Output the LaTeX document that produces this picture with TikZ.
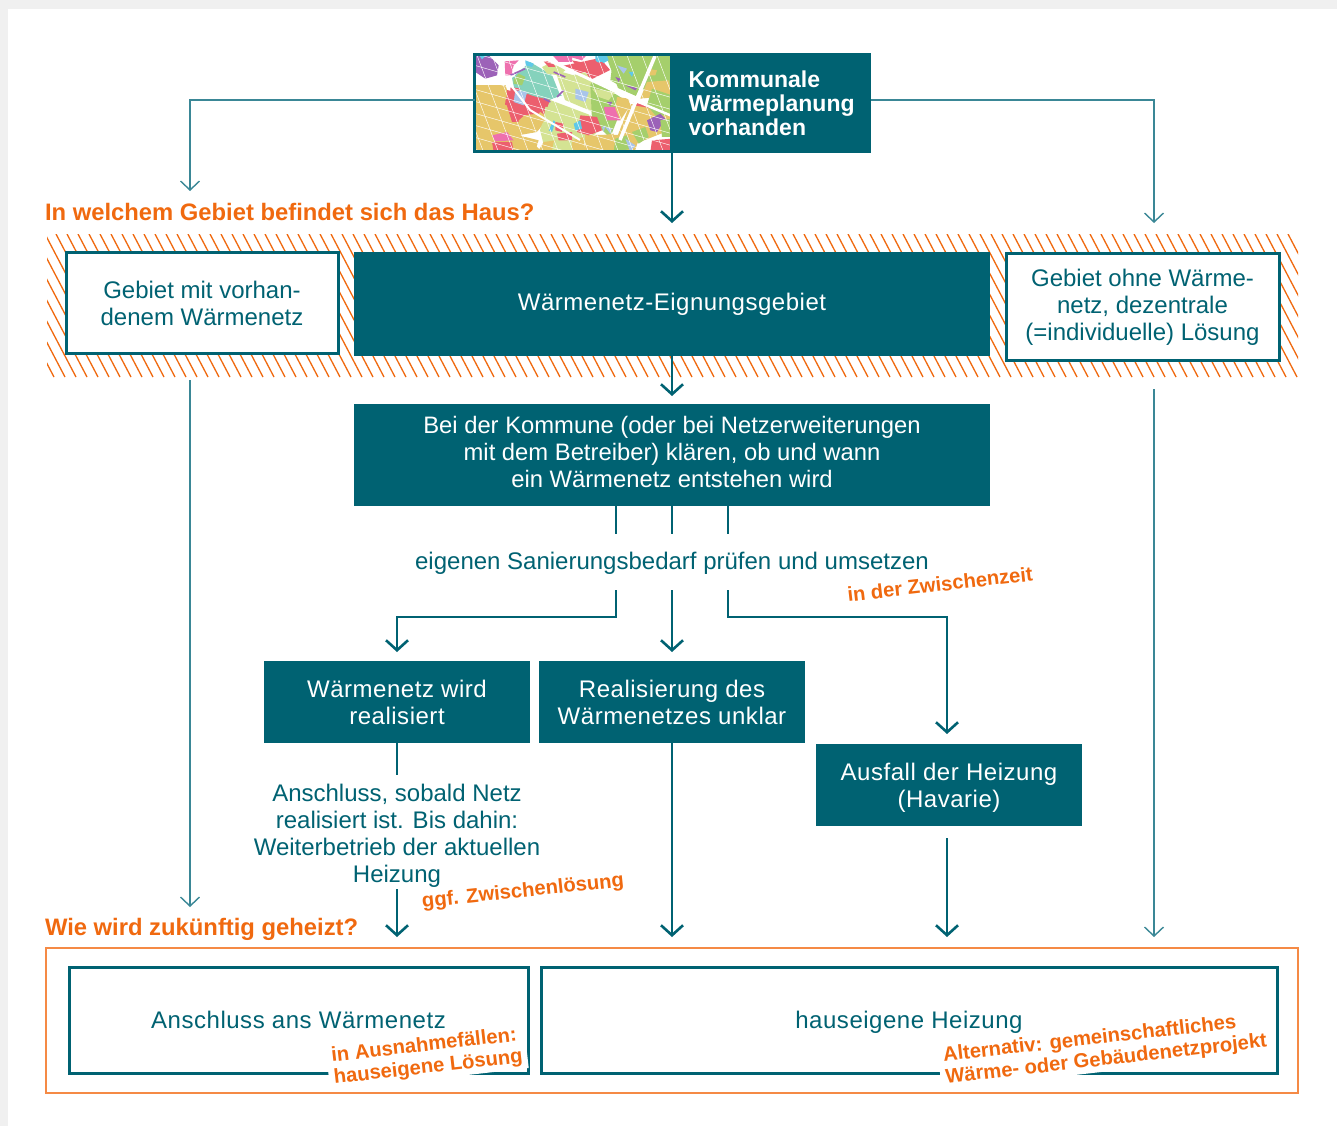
\documentclass[tikz,border=0pt]{standalone}
\usepackage{fontspec}
\setmainfont{Liberation Sans}
\usetikzlibrary{arrows.meta}
\definecolor{teal1}{HTML}{006272}
\definecolor{teal2}{HTML}{3A8796}
\definecolor{orng}{HTML}{F0690F}
\definecolor{orng2}{HTML}{F58A45}
\definecolor{mY}{HTML}{E6C66A}
\definecolor{mR}{HTML}{EC5F6E}
\definecolor{mG}{HTML}{A5CF6C}
\definecolor{mL}{HTML}{D4E393}
\definecolor{mM}{HTML}{85D2BC}
\definecolor{mP}{HTML}{9C62B8}
\definecolor{mK}{HTML}{EE70AE}
\definecolor{mB}{HTML}{A9C5EA}
\definecolor{mC}{HTML}{5FC9E8}
\newcommand{\mapfill}[2]{\fill[#1] #2 -- cycle;}
\newfontfamily\widefont[LetterSpace=2.2]{Liberation Sans}
\tikzset{
  x=1pt,y=-1pt,
  solidbox/.style={fill=teal1,text=white,inner sep=0pt,outer sep=0pt,align=center,font=\fontsize{24}{27}\selectfont},
  widebox/.style={solidbox,font=\widefont\fontsize{24}{27}\selectfont},
  framebox/.style={fill=white,draw=teal1,line width=3pt,text=teal1,inner sep=0pt,outer sep=0pt,align=center,font=\fontsize{24}{27}\selectfont},
  plaintext/.style={text=teal1,inner sep=0pt,outer sep=0pt,align=center,font=\fontsize{24}{27}\selectfont},
  widetext/.style={plaintext,font=\widefont\fontsize{24}{27}\selectfont},
  heading/.style={text=orng,inner sep=0pt,outer sep=0pt,anchor=west,font=\bfseries\fontsize{23.8}{27}\selectfont},
  remark/.style={text=orng,inner xsep=5pt,inner ysep=2pt,outer sep=0pt,align=left,font=\bfseries\fontsize{20.2}{22}\selectfont},
  thickline/.style={draw=teal1,line width=2.6pt},
  thinline/.style={draw=teal2,line width=1.4pt},
  thicktip/.style={thickline,-{Straight Barb[length=10pt,width=22pt,line width=2.6pt]}},
  thintip/.style={thinline,-{Straight Barb[length=9pt,width=19pt,line width=1.4pt]}},
}
\begin{document}
\begin{tikzpicture}
\useasboundingbox (0,0) rectangle (1337,1126);
\fill[black!6] (0,0) rectangle (1337,1126);
\fill[white] (8,9) rectangle (1337,1126);

% hatched band
\begin{scope}
\clip (47,234) rectangle (1298,377);
\foreach \hx in {0,...,125}{
  \draw[orng,line width=1.3pt] ({-32+11*\hx},234) -- ({43+11*\hx},377);
}
\end{scope}

% top box
\node[solidbox,minimum width=200pt,minimum height=100pt,anchor=north west,text width=165pt,align=left,font=\bfseries\fontsize{23}{24}\selectfont] (plan) at (671,53.5) {Kommunale\\Wärmeplanung\\vorhanden};
\fill[teal1] (671,53) rectangle (871,56);
\node[draw=teal1,line width=3pt,fill=white,inner sep=0pt,outer sep=0pt,minimum width=197pt,minimum height=97pt,anchor=north west] (mapbox) at (474.5,54.5) {};
\begin{scope}
\clip (476,56) rectangle (670,151);
% underlay of land-use zones
\mapfill{mY}{(476,84)--(505,84)--(512,105)--(540,108)--(548,118)--(537,132)--(520,135)--(530,140)--(540,150)--(476,150)}
\mapfill{mM}{(512,78)--(530,62)--(552,75)--(560,95)--(540,105)--(515,92)}
\mapfill{mR}{(507,90)--(550,100)--(545,118)--(515,122)--(505,105)}
\mapfill{mL}{(550,100)--(590,115)--(600,130)--(575,150)--(545,150)--(540,130)}
\mapfill{mL}{(555,70)--(590,80)--(612,100)--(600,115)--(565,100)}
\mapfill{mG}{(590,78)--(625,100)--(610,138)--(592,120)}
\mapfill{mG}{(606,56)--(655,56)--(636,96)--(618,88)}
\mapfill{mG}{(650,56)--(670,56)--(670,90)--(642,90)}
\mapfill{mY}{(630,104)--(670,105)--(670,130)--(620,150)--(612,150)}
\mapfill{mR}{(562,66)--(600,58)--(610,70)--(590,80)}
\mapfill{mY}{(585,135)--(640,135)--(635,151)--(585,151)}
\begin{scope}[shift={(472,52)},scale=0.33333]
\mapfill{mP}{(10,12)--(50,10)--(80,40)--(75,70)--(40,80)--(10,60)}
\mapfill{mC}{(20,8)--(45,8)--(30,22)}
\mapfill{mK}{(98,28)--(140,25)--(125,40)--(118,70)--(100,70)}
\mapfill{mC}{(160,25)--(185,35)--(180,45)--(160,40)}
\mapfill{mY}{(12,95)--(100,95)--(105,130)--(85,195)--(65,240)--(5,225)}
\mapfill{mY}{(80,150)--(115,165)--(120,200)--(135,250)--(100,235)--(75,200)}
\mapfill{mY}{(135,210)--(185,165)--(225,195)--(195,235)--(155,245)}
\mapfill{mY}{(0,230)--(60,245)--(55,270)--(10,295)--(0,295)}
\mapfill{mY}{(135,290)--(160,255)--(200,265)--(190,295)}
\mapfill{mY}{(215,270)--(250,265)--(240,295)--(200,295)}
\mapfill{mG}{(125,82)--(140,65)--(160,75)--(150,100)--(125,95)}
\mapfill{mM}{(170,60)--(205,70)--(215,90)--(190,115)--(165,100)}
\mapfill{mM}{(205,120)--(240,110)--(270,130)--(240,140)}
\mapfill{mR}{(115,105)--(145,110)--(130,130)--(115,125)}
\mapfill{mB}{(130,115)--(165,120)--(155,160)--(125,150)}
\mapfill{mR}{(165,125)--(225,150)--(200,185)--(150,190)--(160,160)}
\mapfill{mR}{(100,145)--(135,165)--(140,210)--(120,210)}
\mapfill{mL}{(210,45)--(240,30)--(280,55)--(260,70)--(225,65)}
\mapfill{mR}{(215,28)--(240,25)--(250,45)--(230,45)}
\mapfill{mK}{(240,8)--(300,8)--(300,30)--(260,30)}
\mapfill{mL}{(220,165)--(260,165)--(240,195)--(215,200)}
\mapfill{mL}{(250,170)--(300,200)--(290,240)--(240,215)}
\mapfill{mC}{(230,235)--(245,205)--(250,210)--(240,240)}
\mapfill{mR}{(250,210)--(275,215)--(270,240)--(250,235)}
\mapfill{mK}{(60,250)--(105,240)--(125,265)--(70,268)}
\mapfill{mR}{(60,270)--(120,270)--(125,300)--(65,300)}
\mapfill{mR}{(255,245)--(300,240)--(300,265)--(260,265)}
\mapfill{mL}{(245,270)--(300,265)--(300,300)--(240,300)}
\draw[mP,line width=1.6pt] (245,60)--(280,75) (255,135)--(275,115) (115,70)--(160,50) (215,140)--(235,150);
\end{scope}
\begin{scope}[shift={(572,52)},scale=0.33333]
\mapfill{mK}{(-30,8)--(45,8)--(30,25)}
\mapfill{mC}{(70,12)--(105,12)--(110,25)--(85,38)--(70,25)}
\mapfill{mR}{(0,25)--(25,30)--(40,45)--(15,45)}
\mapfill{mR}{(50,35)--(90,30)--(110,50)--(70,50)}
\mapfill{mG}{(120,45)--(180,12)--(245,12)--(215,75)--(190,120)--(150,105)--(115,85)}
\mapfill{mG}{(265,15)--(300,15)--(300,40)--(265,40)}
\mapfill{mG}{(240,40)--(300,45)--(300,85)--(228,85)}
\mapfill{mY}{(225,90)--(290,85)--(300,130)--(205,140)}
\mapfill{mL}{(0,70)--(40,60)--(60,90)--(30,130)--(0,120)}
\mapfill{mB}{(10,110)--(50,120)--(40,150)--(10,140)}
\mapfill{mL}{(60,110)--(130,120)--(110,145)--(80,135)}
\mapfill{mK}{(95,165)--(130,165)--(145,205)--(105,205)}
\mapfill{mG}{(75,155)--(100,155)--(90,180)--(70,175)}
\mapfill{mP}{(105,150)--(120,150)--(115,162)}
\mapfill{mY}{(135,135)--(170,140)--(175,160)--(145,205)--(130,170)}
\mapfill{mR}{(185,152)--(235,160)--(235,168)--(185,160)}
\mapfill{mY}{(200,170)--(240,175)--(225,205)--(175,235)--(145,245)--(170,200)}
\mapfill{mG}{(240,110)--(300,130)--(300,190)--(250,190)--(225,160)}
\mapfill{mP}{(225,205)--(265,185)--(280,200)--(255,240)--(235,235)}
\mapfill{mG}{(265,205)--(300,200)--(300,255)--(270,255)}
\mapfill{mG}{(180,240)--(220,225)--(230,255)--(200,275)}
\mapfill{mR}{(240,265)--(300,260)--(300,300)--(235,300)}
\mapfill{mR}{(25,190)--(75,195)--(90,235)--(50,250)--(15,240)}
\mapfill{mB}{(90,225)--(100,220)--(95,240)}
\mapfill{mB}{(100,225)--(120,230)--(115,245)}
\mapfill{mC}{(5,215)--(25,205)--(30,230)--(10,235)}
\mapfill{mY}{(60,255)--(85,250)--(80,300)--(50,300)}
\mapfill{mY}{(90,250)--(125,245)--(120,300)--(90,300)}
\mapfill{mY}{(0,265)--(35,255)--(40,300)--(0,300)}
\mapfill{mG}{(130,260)--(165,250)--(180,290)--(125,300)}
\mapfill{mB}{(160,260)--(190,280)--(175,300)}
\mapfill{mP}{(130,75)--(145,80)--(140,90)}
\mapfill{mB}{(135,40)--(165,50)--(155,65)}
\mapfill{mC}{(170,60)--(185,60)--(180,75)}
\mapfill{mP}{(160,100)--(195,108)--(190,115)}
\mapfill{mY}{(225,50)--(255,55)--(250,70)--(225,70)}
\end{scope}
% streets and block texture
\foreach \sx in {0,...,15}{
  \draw[white,line width=0.45pt] ({445+15*\sx},50) -- ({485+15*\sx},156);
  \draw[white,line width=0.45pt] (470,{40+12*\sx}) -- (680,{100+12*\sx});
}
\draw[white,line width=3pt] (540,56) -- (636,101);
\draw[white,line width=3.5pt] (655,56) -- (636,101) -- (620,140);
\draw[white,line width=2.5pt] (636,101) -- (672,116);
\draw[white,line width=2pt] (476,84) -- (510,84) -- (530,110) -- (580,140);
\end{scope}
\node[draw=teal1,line width=3pt,inner sep=0pt,outer sep=0pt,minimum width=197pt,minimum height=97pt,anchor=north west] at (474.5,54.5) {};

% headings
\node[heading] (q1) at (45,212) {In welchem Gebiet befindet sich das Haus?};
\node[heading] (q2) at (45,929) {Wie wird zukünftig geheizt?};

% area boxes
\node[framebox,minimum width=272pt,minimum height=101pt] (g1) at (202,303) {Gebiet mit vorhan-\\denem Wärmenetz};
\node[widebox,minimum width=636pt,minimum height=104pt] (g2) at (672,304) {Wärmenetz-Eignungsgebiet};
\node[framebox,minimum width=273pt,minimum height=107pt] (g3) at (1142.5,306.5) {};
\node[plaintext] (g3t) at (1142.5,307.5) {Gebiet ohne Wärme-\\netz, dezentrale\\(=individuelle) Lösung};

\node[solidbox,minimum width=636pt,minimum height=102pt,font=\fontsize{23.8}{27}\selectfont] (kom) at (672,455) {\raisebox{2pt}{\begin{tabular}{@{}c@{}}Bei der Kommune (oder bei Netzerweiterungen\\[-0.2pt]mit dem Betreiber) klären, ob und wann\\[-0.2pt]ein Wärmenetz entstehen wird\end{tabular}}};
\node[plaintext] (san) at (672,563) {eigenen Sanierungsbedarf prüfen und umsetzen};
\node[remark,rotate=6.5] (zw) at (940,584) {in der Zwischenzeit};

\node[widebox,minimum width=266pt,minimum height=82pt] (real) at (397,702) {Wärmenetz wird\\realisiert};
\node[widebox,minimum width=266pt,minimum height=82pt] (unkl) at (672,702) {Realisierung des\\Wärmenetzes unklar};
\node[widebox,minimum width=266pt,minimum height=82pt] (ausf) at (949,785) {};
\node[widetext,text=white] (ausft) at (949,788) {Ausfall der Heizung\\(Havarie)};
\node[plaintext] (ans) at (397,836) {Anschluss, sobald Netz\\realisiert ist. Bis dahin:\\Weiterbetrieb der aktuellen\\Heizung};
\node[remark,rotate=6] (zl) at (523,892) {ggf. Zwischenlösung};

% result boxes
\draw[orng2,line width=1.6pt] (46,948) rectangle (1298,1093);
\node[framebox,fill=none,minimum width=459pt,minimum height=106pt] (res1) at (298.5,1020.5) {};
\node[framebox,fill=none,minimum width=736pt,minimum height=106pt] (res2) at (909,1020.5) {};
\node[remark,rotate=6.5,fill=white] (r1) at (427,1057) {in Ausnahmefällen:\\hauseigene Lösung};
\node[remark,rotate=6.5,fill=white] (r2) at (1105,1049) {Alternativ: gemeinschaftliches\\Wärme- oder Gebäudenetzprojekt};
\node[widetext] (res1t) at (298.5,1020) {Anschluss ans Wärmenetz};
\node[widetext] (res2t) at (909,1022) {hauseigene Heizung};

% free ends
\coordinate (tl) at (190,191);
\coordinate (tr) at (1154,223);
\coordinate (tc) at (672,223);
\coordinate (gc) at (672,396);
\coordinate (a1) at (190,380);
\coordinate (a1e) at (190,907);
\coordinate (a3) at (1154,389);
\coordinate (a3e) at (1154,937);
\coordinate (s1) at (616,534);
\coordinate (s2) at (672,534);
\coordinate (s3) at (728,534);
\coordinate (b1) at (616,590);
\coordinate (b2) at (672,590);
\coordinate (b3) at (728,590);
\coordinate (c1) at (397,652);
\coordinate (c2) at (672,652);
\coordinate (c3) at (947,734);
\coordinate (d1) at (397,775);
\coordinate (e1) at (397,889);
\coordinate (e1e) at (397,937);
\coordinate (e2) at (672,937);
\coordinate (e3) at (947,838);
\coordinate (e3e) at (947,937);

% connectors
\draw[thintip] (mapbox.west |- 474,100) -- (190,100) -- (tl);
\draw[thintip] (plan.east |- 871,100) -- (1154,100) -- (tr);
\draw[thicktip] (plan.south -| tc) -- (tc);
\draw[thicktip] (g2.south) -- (gc);
\draw[thintip] (a1) -- (a1e);
\draw[thintip] (a3) -- (a3e);
\draw[thickline] (kom.south -| s1) -- (s1);
\draw[thickline] (kom.south -| s2) -- (s2);
\draw[thickline] (kom.south -| s3) -- (s3);
\draw[thicktip] (b1) -- (616,617) -- (397,617) -- (c1);
\draw[thicktip] (b2) -- (c2);
\draw[thicktip] (b3) -- (728,617) -- (947,617) -- (c3);
\draw[thickline] (real.south) -- (d1);
\draw[thicktip] (e1) -- (e1e);
\draw[thicktip] (unkl.south) -- (e2);
\draw[thicktip] (e3) -- (e3e);
\end{tikzpicture}
\end{document}
